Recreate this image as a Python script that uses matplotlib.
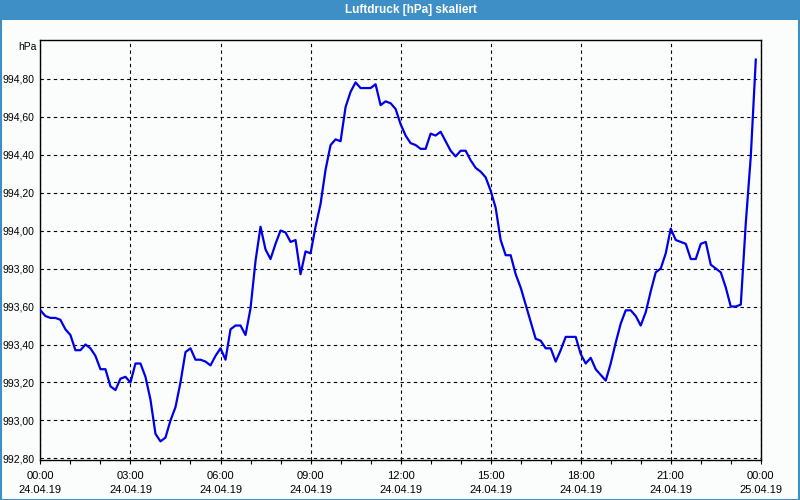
"""Luftdruck (scaled) over one day, 10-minute samples."""

import matplotlib
matplotlib.use("Agg")
import matplotlib.dates as mdates
import matplotlib.patches as mpatches
import matplotlib.pyplot as plt
import pandas as pd
from matplotlib.ticker import FuncFormatter

plt.rcParams["font.family"] = ["Liberation Sans", "DejaVu Sans"]

TITLE = "Luftdruck [hPa] skaliert"
UNIT = "hPa"
START = "2019-04-24 00:00"
END = "2019-04-25 00:00"
Y_TICKS = [992.8, 993.0, 993.2, 993.4, 993.6, 993.8, 994.0, 994.2, 994.4, 994.6, 994.8]

# pressure readings, one every 10 minutes from 00:00
PRESSURE = [
    993.58, 993.55, 993.54, 993.54, 993.53, 993.48, 993.45, 993.37, 993.37, 993.40,
    993.38, 993.34, 993.27, 993.27, 993.18, 993.16, 993.22, 993.23, 993.20, 993.30,
    993.30, 993.23, 993.11, 992.93, 992.89, 992.91, 993.00, 993.07, 993.20, 993.36,
    993.38, 993.32, 993.32, 993.31, 993.29, 993.34, 993.38, 993.32, 993.48, 993.50,
    993.50, 993.45, 993.59, 993.84, 994.02, 993.90, 993.85, 993.93, 994.00, 993.99,
    993.94, 993.95, 993.77, 993.89, 993.88, 994.02, 994.14, 994.32, 994.45, 994.48,
    994.47, 994.65, 994.73, 994.78, 994.75, 994.75, 994.75, 994.77, 994.66, 994.68,
    994.67, 994.64, 994.56, 994.50, 994.46, 994.45, 994.43, 994.43, 994.51, 994.50,
    994.52, 994.47, 994.42, 994.39, 994.42, 994.42, 994.37, 994.33, 994.31, 994.28,
    994.21, 994.12, 993.95, 993.87, 993.87, 993.77, 993.70, 993.61, 993.52, 993.43,
    993.42, 993.38, 993.38, 993.31, 993.37, 993.44, 993.44, 993.44, 993.35, 993.30,
    993.33, 993.27, 993.24, 993.21, 993.30, 993.41, 993.51, 993.58, 993.58, 993.55,
    993.50, 993.57, 993.68, 993.78, 993.80, 993.88, 994.01, 993.95, 993.94, 993.93,
    993.85, 993.85, 993.93, 993.94, 993.82, 993.80, 993.78, 993.70, 993.60, 993.60,
    993.61, 994.04, 994.39, 994.90,
]

BG = "#FBFDFC"
BAR = "#3D8FC6"

times = pd.date_range(START, periods=len(PRESSURE), freq="10min")

fig = plt.figure(figsize=(8, 5), dpi=100, facecolor=BG)

# title bar and outer frame
fig.patches.append(mpatches.Rectangle((0, 0.96), 1, 0.04, transform=fig.transFigure,
                                      facecolor=BAR, edgecolor="none", zorder=0))
fig.patches.append(mpatches.Rectangle((0.001, 0.001), 0.998, 0.998, transform=fig.transFigure,
                                      facecolor="none", edgecolor=BAR, linewidth=1.5, zorder=5))
fig.text(0.514, 0.979, TITLE, color="white", fontsize=8.5, fontweight="bold",
         ha="center", va="center")

ax = fig.add_axes([0.0505, 0.08, 0.9005, 0.84])
ax.set_facecolor(BG)
ax.plot(times, PRESSURE, color="#0000E8", linewidth=1.6, zorder=3)

ax.set_xlim(pd.Timestamp(START), pd.Timestamp(END))
ax.set_ylim(992.792, 995.003)

ax.xaxis.set_major_locator(mdates.HourLocator(byhour=range(0, 24, 3)))
ax.xaxis.set_minor_locator(mdates.HourLocator())
ax.xaxis.set_major_formatter(mdates.DateFormatter("%H:%M\n%d.%m.%y"))
ax.set_yticks(Y_TICKS)
ax.yaxis.set_major_formatter(FuncFormatter(lambda v, _: f"{v:.2f}".replace(".", ",")))

ax.grid(True, which="major", color="black", linestyle=(0, (3, 3)), linewidth=0.8)
ax.tick_params(axis="x", which="both", direction="out", length=3, width=0.8,
               labelsize=8, pad=5)
ax.tick_params(axis="y", length=0, labelsize=7.5, pad=4)
for lab in ax.get_xticklabels():
    lab.set_linespacing(1.5)
for sp in ax.spines.values():
    sp.set_linewidth(1.0)
    sp.set_color("black")

fig.text(0.046, 0.906, UNIT, fontsize=7.5, ha="right", va="center")

fig.savefig("out.png", dpi=100, facecolor=BG)
plt.close(fig)
